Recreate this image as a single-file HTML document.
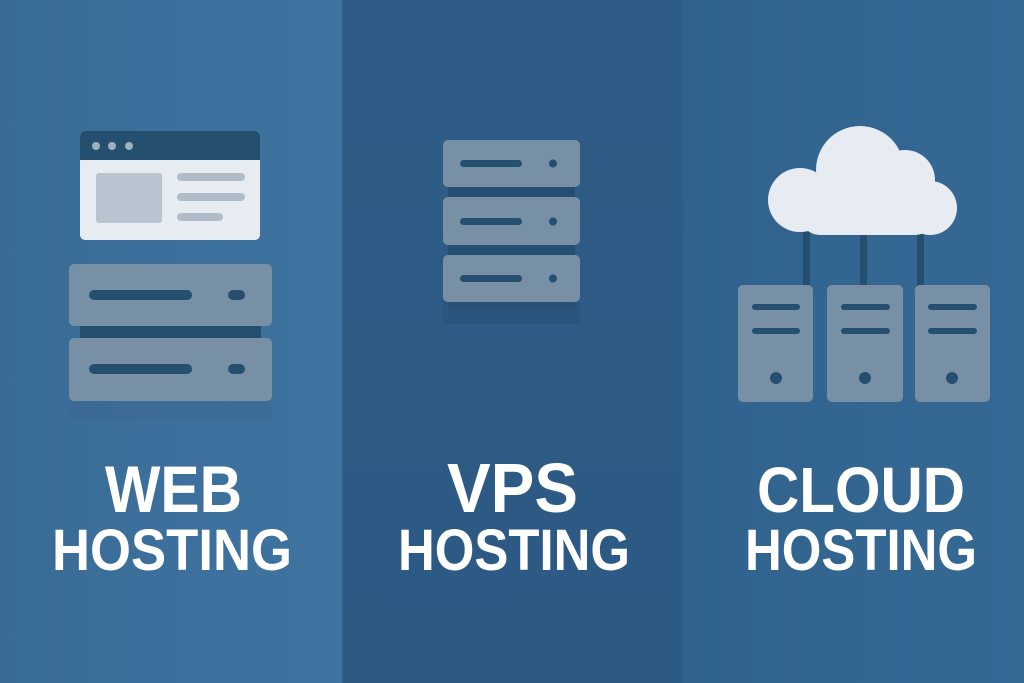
<!DOCTYPE html>
<html><head><meta charset="utf-8"><style>
html,body{margin:0;padding:0;width:1024px;height:683px;overflow:hidden}
</style></head><body>
<svg width="1024" height="683" viewBox="0 0 1024 683" xmlns="http://www.w3.org/2000/svg">
<defs>
<linearGradient id="g1" x1="0" y1="0" x2="1" y2="0"><stop offset="0" stop-color="#3a6b97"/><stop offset="1" stop-color="#3f74a0"/></linearGradient>
<linearGradient id="g2" x1="0" y1="0" x2="0" y2="1"><stop offset="0" stop-color="#2e5c86"/><stop offset="1" stop-color="#2c5a83"/></linearGradient>
<linearGradient id="g3" x1="0" y1="0" x2="1" y2="0"><stop offset="0" stop-color="#30628d"/><stop offset="1" stop-color="#356994"/></linearGradient>
</defs>
<rect x="0" y="0" width="342" height="683" fill="url(#g1)"/>
<rect x="342" y="0" width="341" height="683" fill="url(#g2)"/>
<rect x="683" y="0" width="341" height="683" fill="url(#g3)"/>

<!-- Web: browser -->
<rect x="80" y="131" width="180" height="109" rx="5" fill="#e6ecf1"/>
<path d="M85 131 H255 A5 5 0 0 1 260 136 V160 H80 V136 A5 5 0 0 1 85 131Z" fill="#244f6f"/>
<circle cx="96" cy="146" r="4" fill="#9fb0bf"/><circle cx="112" cy="146" r="4" fill="#9fb0bf"/><circle cx="129" cy="146" r="4" fill="#9fb0bf"/>
<rect x="96" y="173" width="66" height="50" rx="3" fill="#b8c4cf"/>
<rect x="177" y="173" width="68" height="8" rx="4" fill="#b0bcc8"/>
<rect x="177" y="193" width="68" height="8" rx="4" fill="#b0bcc8"/>
<rect x="177" y="213" width="46" height="8" rx="4" fill="#b0bcc8"/>
<!-- Web: servers -->
<rect x="80" y="320" width="181" height="24" fill="#254f70"/>
<rect x="69" y="264" width="203" height="62" rx="5" fill="#7890a6"/>
<rect x="69" y="338" width="203" height="63" rx="5" fill="#7890a6"/>
<rect x="69" y="401" width="203" height="20" fill="#3a6891" opacity="0.5"/>
<rect x="89" y="290" width="103" height="10" rx="5" fill="#244f6f"/>
<rect x="228" y="290" width="17" height="10" rx="5" fill="#244f6f"/>
<rect x="89" y="364" width="103" height="10" rx="5" fill="#244f6f"/>
<rect x="228" y="364" width="17" height="10" rx="5" fill="#244f6f"/>

<!-- VPS servers -->
<rect x="448" y="180" width="127" height="130" fill="#254f70"/>
<rect x="443" y="140" width="137" height="47" rx="5" fill="#7890a6"/>
<rect x="443" y="197" width="137" height="48" rx="5" fill="#7890a6"/>
<rect x="443" y="255" width="137" height="47" rx="5" fill="#7890a6"/>
<rect x="443" y="302" width="137" height="22" fill="#2a5479" opacity="0.7"/>
<rect x="460" y="160" width="62" height="7" rx="3.5" fill="#244f6f"/><circle cx="553" cy="163.5" r="4" fill="#244f6f"/>
<rect x="460" y="218" width="62" height="7" rx="3.5" fill="#244f6f"/><circle cx="553" cy="221.5" r="4" fill="#244f6f"/>
<rect x="460" y="275" width="62" height="7" rx="3.5" fill="#244f6f"/><circle cx="553" cy="278.5" r="4" fill="#244f6f"/>

<!-- Cloud -->
<rect x="803" y="225" width="7" height="62" fill="#244f6f"/>
<rect x="860" y="225" width="7" height="62" fill="#244f6f"/>
<rect x="917" y="225" width="7" height="62" fill="#244f6f"/>
<g fill="#e6ecf2">
<circle cx="800" cy="200" r="32"/>
<circle cx="860" cy="170" r="44"/>
<circle cx="905" cy="180" r="30"/>
<circle cx="930" cy="208" r="27"/>
<rect x="800" y="190" width="135" height="45" rx="20"/>
</g>
<g fill="#7890a6">
<rect x="738" y="285" width="75" height="117" rx="5"/>
<rect x="827" y="285" width="76" height="117" rx="5"/>
<rect x="915" y="285" width="75" height="117" rx="5"/>
</g>
<g fill="#244f6f">
<rect x="752" y="304" width="48" height="6" rx="3"/><rect x="752" y="328" width="48" height="6" rx="3"/><circle cx="776" cy="378" r="6"/>
<rect x="841" y="304" width="49" height="6" rx="3"/><rect x="841" y="328" width="49" height="6" rx="3"/><circle cx="865" cy="378" r="6"/>
<rect x="928" y="304" width="49" height="6" rx="3"/><rect x="928" y="328" width="49" height="6" rx="3"/><circle cx="952" cy="378" r="6"/>
</g>

<!-- Text -->
<g font-family="Liberation Sans, Arial, sans-serif" font-weight="bold" fill="#ffffff">
<text x="105" y="512" font-size="66" textLength="137" lengthAdjust="spacingAndGlyphs">WEB</text>
<text x="52" y="570" font-size="58" textLength="240" lengthAdjust="spacingAndGlyphs">HOSTING</text>
<text x="447" y="512" font-size="70" textLength="131" lengthAdjust="spacingAndGlyphs">VPS</text>
<text x="398" y="570" font-size="58" textLength="232" lengthAdjust="spacingAndGlyphs">HOSTING</text>
<text x="757" y="512" font-size="64" textLength="208" lengthAdjust="spacingAndGlyphs">CLOUD</text>
<text x="745" y="570" font-size="58" textLength="232" lengthAdjust="spacingAndGlyphs">HOSTING</text>
</g>
</svg>
</body></html>
